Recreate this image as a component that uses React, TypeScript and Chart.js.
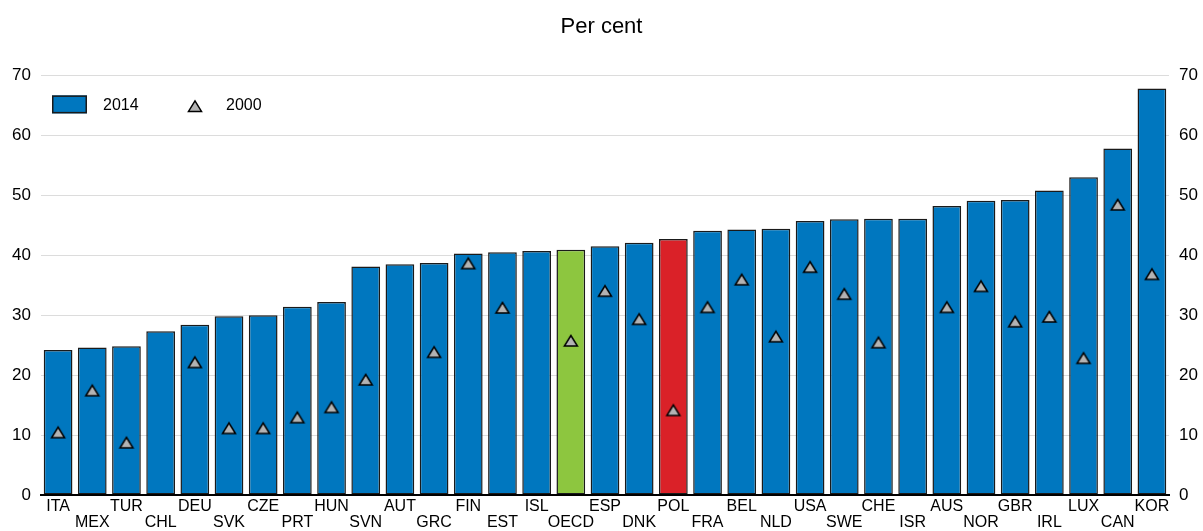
import React, { useEffect, useRef } from "react";
import { Chart, registerables } from "chart.js";

Chart.register(...registerables);

const categories = ["ITA","MEX","TUR","CHL","DEU","SVK","CZE","PRT","HUN","SVN","AUT","GRC","FIN","EST","ISL","OECD","ESP","DNK","POL","FRA","BEL","NLD","USA","SWE","CHE","ISR","AUS","NOR","GBR","IRL","LUX","CAN","KOR"];
const values2014 = [24.2,24.6,24.8,27.3,28.4,29.8,30.0,31.4,32.2,38.1,38.5,38.7,40.3,40.5,40.7,40.9,41.5,42.1,42.7,44.1,44.3,44.4,45.7,46.0,46.1,46.1,48.2,49.1,49.2,50.8,53.0,57.8,67.8];
const values2000 = [10.4,17.4,8.7,null,22.1,11.1,11.1,12.9,14.6,19.2,null,23.8,38.6,31.2,null,25.7,34.0,29.3,14.1,31.3,35.9,26.4,38.0,33.5,25.4,null,31.3,34.8,28.9,29.7,22.8,48.4,36.8];
const yTicks = [0,10,20,30,40,50,60,70];

const BLUE = "#0077BF";
const GREEN = "#8DC63F";
const RED = "#DA2128";
const BORDER = "#1A1A1A";
const TRI = "#B3B3B3";
const FONT = "'Liberation Sans', Arial, sans-serif";

function drawTriangle(ctx: CanvasRenderingContext2D, cx: number, cy: number) {
  ctx.beginPath();
  ctx.moveTo(cx - 6.5, cy + 5);
  ctx.lineTo(cx + 6.5, cy + 5);
  ctx.lineTo(cx, cy - 5.5);
  ctx.closePath();
  ctx.fillStyle = TRI;
  ctx.fill();
  ctx.lineWidth = 1.5;
  ctx.lineJoin = "miter";
  ctx.strokeStyle = "#000";
  ctx.stroke();
}

function makeTriangleImage(): HTMLCanvasElement {
  const c = document.createElement("canvas");
  c.width = 18;
  c.height = 16;
  const ctx = c.getContext("2d")!;
  drawTriangle(ctx, 9, 8);
  return c;
}

const legendPlugin = {
  id: "insideLegend",
  afterDraw(chart: any) {
    const ctx = chart.ctx;
    const a = chart.chartArea;
    const x0 = a.left + 11;
    const y0 = a.top + 20;
    ctx.save();
    ctx.fillStyle = BLUE;
    ctx.strokeStyle = BORDER;
    ctx.lineWidth = 1.5;
    ctx.fillRect(x0, y0, 35, 18);
    ctx.strokeRect(x0 + 0.75, y0 + 0.75, 33.5, 16.5);
    ctx.fillStyle = "#000";
    ctx.font = `16px ${FONT}`;
    ctx.textBaseline = "middle";
    ctx.textAlign = "left";
    ctx.fillText("2014", x0 + 51, y0 + 10);
    drawTriangle(ctx, x0 + 143, y0 + 11);
    ctx.fillStyle = "#000";
    ctx.fillText("2000", x0 + 174, y0 + 10);
    ctx.restore();
  },
};

export default function App() {
  const ref = useRef<HTMLCanvasElement | null>(null);
  useEffect(() => {
    if (!ref.current) return;
    const barColors = categories.map((c) => (c === "OECD" ? GREEN : c === "POL" ? RED : BLUE));
    const tri = makeTriangleImage();
    const chart = new Chart(ref.current, {
      type: "bar",
      data: {
        labels: categories,
        datasets: [
          {
            type: "line",
            label: "2000",
            data: values2000,
            showLine: false,
            pointStyle: tri,
            pointRadius: 7,
            order: 0,
          } as any,
          {
            type: "bar",
            label: "2014",
            data: values2014,
            backgroundColor: barColors,
            borderColor: BORDER,
            borderWidth: 1.5,
            borderSkipped: false,
            barPercentage: 0.84,
            categoryPercentage: 1,
            order: 1,
          },
        ],
      },
      options: {
        animation: false,
        responsive: false,
        maintainAspectRatio: false,
        layout: { padding: 0 },
        plugins: {
          legend: { display: false },
          tooltip: { enabled: false },
          title: {
            display: true,
            text: "Per cent",
            color: "#000",
            font: { family: FONT, size: 22, weight: "normal" },
            padding: { top: 14, bottom: 35 },
          },
        },
        scales: {
          x: {
            grid: { display: false, drawTicks: false },
            border: { display: true, color: "#000", width: 2, z: 1 },
            ticks: {
              autoSkip: false,
              maxRotation: 0,
              minRotation: 0,
              padding: 4,
              color: "#000",
              font: { family: FONT, size: 16, lineHeight: 1.0 },
              callback: (_v: any, i: number) => (i % 2 === 0 ? categories[i] : ["", categories[i]]),
            },
            afterFit: (s: any) => { s.height = 36; },
          },
          y: {
            position: "left",
            min: 0,
            max: 70,
            afterBuildTicks: (s: any) => { s.ticks = yTicks.map((v) => ({ value: v })); },
            grid: { color: "#DCDCDC", lineWidth: 1, drawTicks: false },
            border: { display: false },
            ticks: { padding: 10, color: "#000", font: { family: FONT, size: 17 } },
            afterFit: (s: any) => { s.width = 41; },
          },
          y2: {
            position: "right",
            min: 0,
            max: 70,
            afterBuildTicks: (s: any) => { s.ticks = yTicks.map((v) => ({ value: v })); },
            grid: { display: false, drawTicks: false },
            border: { display: false },
            ticks: { padding: 10, color: "#000", font: { family: FONT, size: 17 } },
            afterFit: (s: any) => { s.width = 34; },
          },
        },
      },
      plugins: [legendPlugin],
    });
    return () => chart.destroy();
  }, []);
  return (
    <div style={{ position: "fixed", left: 0, top: 0, width: 1203, height: 531, background: "#fff" }}>
      <canvas ref={ref} width={1203} height={531} style={{ display: "block", width: 1203, height: 531 }} />
    </div>
  );
}
